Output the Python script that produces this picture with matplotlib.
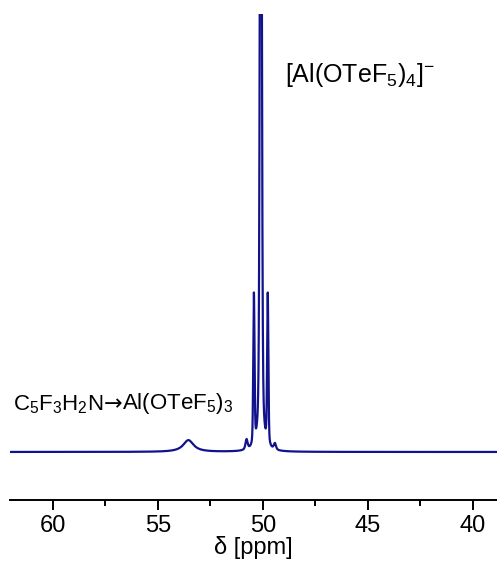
"""19F NMR spectrum of [Al(OTeF5)4]- with the pyridine adduct signal."""

import matplotlib

matplotlib.use("Agg")
import matplotlib.pyplot as plt
import numpy as np
from matplotlib.ticker import MultipleLocator

plt.rcParams["font.family"] = ["Liberation Sans", "DejaVu Sans"]
plt.rcParams["mathtext.default"] = "regular"

# peak list:
# position (ppm), relative height, FWHM (ppm), Lorentzian fraction
peak_ppm = [53.55, 50.78, 50.43, 50.10, 49.77, 49.43]
peak_height = [0.075, 0.065, 0.96, 6.0, 0.96, 0.04]
peak_fwhm = [0.6, 0.12, 0.07, 0.10, 0.07, 0.12]
peak_lorentz = [1.0, 0.6, 0.35, 0.4, 0.35, 0.6]

ppm_range = (62.05, 38.85)
y_range = (-0.306, 2.79)
xticks = [60, 55, 50, 45, 40]

label_anion = r"[Al(OTeF$_5$)$_4$]$^{-}$"
# adduct label in three parts so the arrow can come from DejaVu Sans
label_adduct = [r"C$_5$F$_3$H$_2$N", "→", r"Al(OTeF$_5$)$_3$"]

line_color = "#12128c"

# pseudo-Voigt line shapes
x = np.linspace(63, 38, 10000)
y = np.zeros_like(x)
for pos, h, w, eta in zip(peak_ppm, peak_height, peak_fwhm, peak_lorentz):
    g = w / 2
    lor = g**2 / (g**2 + (x - pos) ** 2)
    gau = np.exp(-4 * np.log(2) * ((x - pos) / w) ** 2)
    y += h * (eta * lor + (1 - eta) * gau)

fig = plt.figure(figsize=(4.97, 5.72), dpi=100)
ax = fig.add_axes([0.02, 1 - 500 / 572, 0.98, (500 - 14) / 572])

ax.plot(x, y, color=line_color, linewidth=1.6)

ax.set_xlim(*ppm_range)
ax.set_ylim(*y_range)
ax.set_xticks(xticks)
ax.xaxis.set_minor_locator(MultipleLocator(2.5))
ax.set_yticks([])
for side in ("top", "left", "right"):
    ax.spines[side].set_visible(False)
ax.spines["bottom"].set_linewidth(1.4)
ax.tick_params(axis="x", which="major", length=7, width=1.4, labelsize=17, pad=4)
ax.tick_params(axis="x", which="minor", length=4, width=1.4)
ax.set_xlabel("δ [ppm]", fontsize=17, labelpad=-1)

ax.text(48.95, 2.40, label_anion, fontsize=18, ha="left", va="center")

prev = ax.text(61.9, 0.23, label_adduct[0], fontsize=16, ha="left", va="bottom")
prev = ax.annotate(label_adduct[1], xy=(1, 0), xycoords=prev, fontsize=16,
                   family="DejaVu Sans", ha="left", va="bottom",
                   xytext=(0, 1), textcoords="offset points")
ax.annotate(label_adduct[2], xy=(1, 0), xycoords=prev, fontsize=16,
            ha="left", va="bottom", xytext=(0, -1), textcoords="offset points")

fig.savefig("out.png", dpi=100)
